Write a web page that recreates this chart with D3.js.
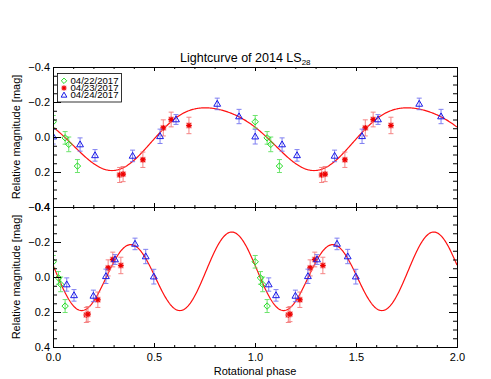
<!DOCTYPE html>
<html>
<head>
<meta charset="utf-8">
<script src="https://cdn.jsdelivr.net/npm/d3@7"></script>
<style>
  body { margin: 0; background: #fff; }
  svg { display: block; font-family: "Liberation Sans", Arial, Helvetica, sans-serif; }
</style>
</head>
<body>
<svg id="chart" width="491" height="379"></svg>
<script>
// observing nights (legend)
const nights = ["04/22/2017", "04/23/2017", "04/24/2017"];

// 04/22/2017 : phase in upper (single-peaked) and lower (double-peaked) folding
const n1PhaseTop = [0.001, 0.060, 0.078, 0.121];
const n1PhaseBottom = [0.001, 0.027, 0.038, 0.060];
const n1Mag = [-0.087, 0.005, 0.042, 0.166];
const n1Err = [0.036, 0.036, 0.042, 0.037];

// 04/23/2017
const n2PhaseTop = [0.330, 0.347, 0.445, 0.546, 0.585, 0.673];
const n2PhaseBottom = [0.165, 0.173, 0.222, 0.273, 0.296, 0.336];
const n2Mag = [0.217, 0.212, 0.130, -0.052, -0.100, -0.066];
const n2Err = [0.043, 0.043, 0.044, 0.046, 0.042, 0.047];

// 04/24/2017
const n3PhaseTop = [0.001, 0.134, 0.208, 0.394, 0.530, 0.609, 0.813, 0.921];
const n3PhaseBottom = [0.499, 0.068, 0.104, 0.200, 0.262, 0.307, 0.406, 0.459];
const n3Mag = [-0.002, 0.043, 0.105, 0.108, -0.004, -0.100, -0.189, -0.117];
const n3Err = [0.042, 0.038, 0.033, 0.033, 0.041, 0.028, 0.033, 0.041];

// fitted Fourier curves: [c, a1, b1, a2, b2]
const topFitCoef = [-0.0071, -0.0343, 0.1747, -0.0151, -0.0161];
const bottomFitCoef = [-0.015, -0.027, 0.0238, -0.0258, 0.2044];

const xTicks = [0, 0.5, 1, 1.5, 2];
const yTicks = [-0.4, -0.2, 0, 0.2, 0.4];

const svg = d3.select("#chart");
const left = 53, right = 457;
const panels = [
  { top: 67, bottom: 207, phaseKey: "phaseTop", coef: topFitCoef, labels: false },
  { top: 207, bottom: 347, phaseKey: "phaseBottom", coef: bottomFitCoef, labels: true }
];

const styles = [
  { color: "#22dd22", bar: "#55e055", symbol: "diamond" },
  { color: "#ee0000", bar: "#f47070", symbol: "asterisk" },
  { color: "#1a1ae6", bar: "#6a6af0", symbol: "triangle" }
];

const series = [
  { phaseTop: n1PhaseTop, phaseBottom: n1PhaseBottom, mag: n1Mag, err: n1Err },
  { phaseTop: n2PhaseTop, phaseBottom: n2PhaseBottom, mag: n2Mag, err: n2Err },
  { phaseTop: n3PhaseTop, phaseBottom: n3PhaseBottom, mag: n3Mag, err: n3Err }
];

const x = d3.scaleLinear().domain([0, 2]).range([left, right]);

function fourier(coef, phase) {
  const t = 2 * Math.PI * phase;
  return coef[0] + coef[1] * Math.cos(t) + coef[2] * Math.sin(t) +
    coef[3] * Math.cos(2 * t) + coef[4] * Math.sin(2 * t);
}

function drawSymbol(g, kind, color, s = 1) {
  if (kind === "diamond") {
    g.append("path").attr("d", `M0,${-3.2 * s}L${3.2 * s},0L0,${3.2 * s}L${-3.2 * s},0Z`)
      .attr("fill", "none").attr("stroke", color).attr("stroke-width", 1);
  } else if (kind === "triangle") {
    g.append("path").attr("d", `M0,${-3.6 * s}L${3.4 * s},${2.3 * s}L${-3.4 * s},${2.3 * s}Z`)
      .attr("fill", "none").attr("stroke", color).attr("stroke-width", 1);
  } else {
    g.append("rect").attr("x", -3 * s).attr("y", -3 * s).attr("width", 6 * s).attr("height", 6 * s)
      .attr("fill", "#f79a9a").attr("opacity", 0.7);
    const r = 2.8 * s, d = 2 * s;
    g.append("path")
      .attr("d", `M${-r},0L${r},0M0,${-r}L0,${r}M${-d},${-d}L${d},${d}M${-d},${d}L${d},${-d}`)
      .attr("stroke", color).attr("stroke-width", 1.1);
  }
}

panels.forEach((panel, pi) => {
  const y = d3.scaleLinear().domain([-0.4, 0.4]).range([panel.top, panel.bottom]);
  const clipId = `clip${pi}`;
  svg.append("clipPath").attr("id", clipId)
    .append("rect")
    .attr("x", left).attr("y", panel.top)
    .attr("width", right - left).attr("height", panel.bottom - panel.top);

  const plot = svg.append("g").attr("clip-path", `url(#${clipId})`);

  // fit curve
  const curvePhases = d3.range(0, 2.0001, 0.004);
  plot.append("path")
    .datum(curvePhases)
    .attr("fill", "none")
    .attr("stroke", "#ff1010")
    .attr("stroke-width", 1.2)
    .attr("d", d3.line().x((p) => x(p)).y((p) => y(fourier(panel.coef, p))));

  // data points, plotted twice (phase and phase + 1)
  series.forEach((s, si) => {
    const st = styles[si];
    const points = [];
    s[panel.phaseKey].forEach((ph, i) => {
      [0, 1].forEach((shift) => points.push({ ph: ph + shift, mag: s.mag[i], err: s.err[i] }));
    });

    const bars = plot.append("g")
      .attr("stroke", st.bar)
      .attr("stroke-width", 1)
      .attr("opacity", 0.85);
    points.forEach((d) => {
      const cx = x(d.ph);
      const y1 = y(d.mag - d.err), y2 = y(d.mag + d.err);
      bars.append("line").attr("x1", cx).attr("x2", cx).attr("y1", y1).attr("y2", y2);
      bars.append("line").attr("x1", cx - 2.5).attr("x2", cx + 2.5).attr("y1", y1).attr("y2", y1);
      bars.append("line").attr("x1", cx - 2.5).attr("x2", cx + 2.5).attr("y1", y2).attr("y2", y2);
    });

    points.forEach((d) => {
      const g = plot.append("g").attr("transform", `translate(${x(d.ph)},${y(d.mag)})`);
      drawSymbol(g, st.symbol, st.color);
    });
  });

  // axes on all four sides, ticks pointing inward
  const fmt = d3.format(".1f");
  const minorX = d3.range(0, 2.0001, 0.1);
  const minorY = d3.range(-0.4, 0.4001, 0.05);

  const addAxis = (axis, tx, ty) => {
    const g = svg.append("g").attr("transform", `translate(${tx},${ty})`).call(axis);
    g.selectAll("text")
      .attr("fill", "#000")
      .style("font-size", "11px")
      .style("font-family", "'Liberation Sans', Arial, sans-serif");
    g.selectAll("line").attr("stroke", "#000");
    g.select(".domain").attr("stroke", "#000");
    return g;
  };

  addAxis(d3.axisBottom(x).tickValues(minorX).tickSize(-2).tickSizeOuter(0).tickFormat(""), 0, panel.bottom);
  addAxis(d3.axisBottom(x).tickValues(xTicks).tickSize(-4).tickSizeOuter(0).tickPadding(6)
    .tickFormat(panel.labels ? fmt : () => ""), 0, panel.bottom);
  addAxis(d3.axisTop(x).tickValues(minorX).tickSize(-2).tickSizeOuter(0).tickFormat(""), 0, panel.top);
  addAxis(d3.axisTop(x).tickValues(xTicks).tickSize(-4).tickSizeOuter(0).tickFormat(""), 0, panel.top);

  addAxis(d3.axisLeft(y).tickValues(minorY).tickSize(-4).tickSizeOuter(0).tickFormat(""), left, 0);
  addAxis(d3.axisLeft(y).tickValues(yTicks).tickSize(-8).tickSizeOuter(0).tickPadding(3).tickFormat(fmt), left, 0);
  addAxis(d3.axisRight(y).tickValues(minorY).tickSize(-4).tickSizeOuter(0).tickFormat(""), right, 0);
  addAxis(d3.axisRight(y).tickValues(yTicks).tickSize(-8).tickSizeOuter(0).tickFormat(""), right, 0);

  svg.append("text")
    .attr("transform", `translate(20,${(panel.top + panel.bottom) / 2}) rotate(-90)`)
    .attr("text-anchor", "middle")
    .style("font-size", "11px")
    .text("Relative magnitude [mag]");
});

// title with subscript
const title = svg.append("text")
  .attr("x", 180)
  .attr("y", 61.5)
  .style("font-size", "12.5px");
title.append("tspan").text("Lightcurve of 2014 LS");
title.append("tspan").attr("dy", 3).style("font-size", "8px").text("28");

svg.append("text")
  .attr("x", (left + right) / 2)
  .attr("y", 374.5)
  .attr("text-anchor", "middle")
  .style("font-size", "11px")
  .text("Rotational phase");

// legend
const legend = svg.append("g");
legend.append("rect")
  .attr("x", 57.5).attr("y", 73.5).attr("width", 64).attr("height", 28.5)
  .attr("fill", "#fff").attr("stroke", "#000").attr("stroke-width", 0.8);
nights.forEach((name, i) => {
  const cy = 80.8 + i * 7.2;
  const g = legend.append("g").attr("transform", `translate(64,${cy})`);
  drawSymbol(g, styles[i].symbol, styles[i].color, 0.85);
  legend.append("text")
    .attr("x", 70.5)
    .attr("y", cy + 3)
    .attr("textLength", 48)
    .attr("lengthAdjust", "spacingAndGlyphs")
    .style("font-size", "8.4px")
    .text(name);
});
</script>
</body>
</html>
